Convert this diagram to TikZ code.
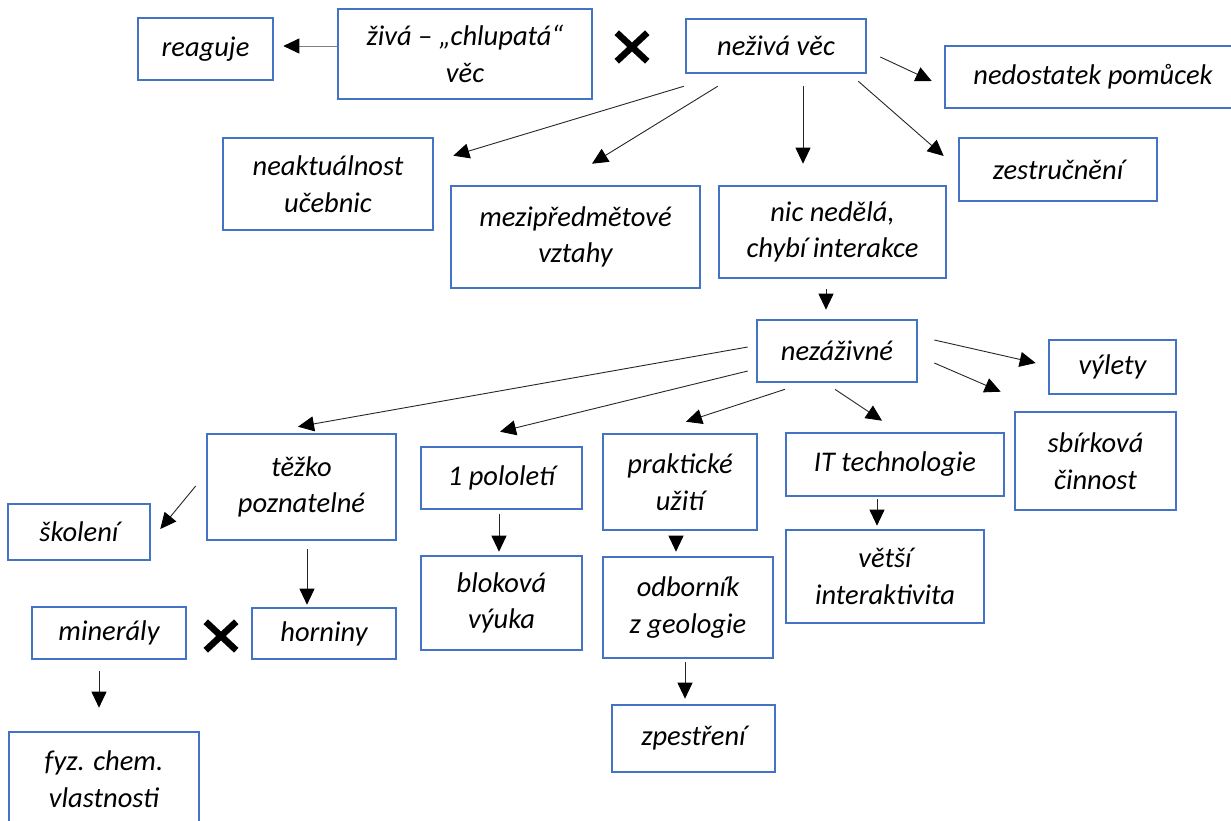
\documentclass[tikz,border=0pt]{standalone}
\usepackage{fontspec}
\setmainfont{Carlito}
\usepackage{tikz}
\usetikzlibrary{shapes.misc}
\usetikzlibrary{arrows.meta}
\definecolor{okraj}{HTML}{4472C4}
\tikzset{
  box/.style={draw=okraj, line width=2.6pt, fill=white, rectangle,
    align=center, inner sep=2pt,
    font=\fontsize{28.5}{36.7}\selectfont\itshape},
  sipka/.style={-{Triangle[length=16pt,width=15pt,color=black]}, line width=0.9pt, black!85},
  krizek/.style={cross out, draw=black, line width=6.5pt,
    minimum width=24pt, minimum height=22pt, inner sep=0pt}
}
\begin{document}
\begin{tikzpicture}[x=1pt,y=-1pt]
\useasboundingbox (0,0) rectangle (1231,821);

\node[box, minimum width=135pt, minimum height=62pt] (reaguje) at (205.5,49)
  {reaguje};
\node[box, minimum width=254pt, minimum height=90pt] (ziva) at (465,54)
  {živá – „chlupatá“\\věc};
\node[krizek] (x1) at (632,47) {};
\node[box, minimum width=180pt, minimum height=54pt] (nez) at (776,46)
  {neživá věc};
\node[box, minimum width=296pt, minimum height=62pt] (nedost) at (1093,77)
  {nedostatek pomůcek};
\node[box, minimum width=210pt, minimum height=92pt] (neakt) at (328,184)
  {neaktuálnost\\učebnic};
\node[box, minimum width=249pt, minimum height=102pt] (mezi) at (575.5,237)
  {mezipředmětové\\vztahy};
\node[box, minimum width=227pt, minimum height=92pt] (nic) at (832.5,232)
  {nic nedělá,\\chybí interakce};
\node[box, minimum width=198pt, minimum height=63pt] (zestr) at (1058,169.5)
  {zestručnění};

\node[box, minimum width=160pt, minimum height=62pt] (nezaz) at (837,351)
  {nezáživné};
\node[box, minimum width=127pt, minimum height=54pt] (vylety) at (1112.5,367)
  {výlety};
\node[box, minimum width=161pt, minimum height=98pt] (sbirk) at (1095.5,461)
  {sbírková\\činnost};
\node[box, minimum width=189pt, minimum height=106pt] (tezko) at (301.5,487)
  {těžko\\poznatelné};
\node[box, minimum width=142pt, minimum height=56pt] (skoleni) at (79,532)
  {školení};
\node[box, minimum width=161pt, minimum height=62pt] (pololeti) at (501.5,478)
  {1 pololetí};
\node[box, minimum width=154pt, minimum height=96pt] (prakt) at (680,482)
  {praktické\\užití};
\node[box, minimum width=218pt, minimum height=63pt] (it) at (895,464.5)
  {IT technologie};

\node[box, minimum width=154pt, minimum height=52pt] (mineraly) at (109,633)
  {minerály};
\node[krizek] (x2) at (221,636) {};
\node[box, minimum width=144pt, minimum height=51pt] (horniny) at (324,633.5)
  {horniny};
\node[box, minimum width=190pt, minimum height=94pt] (fyz) at (104,779)
  {fyz. chem.\\vlastnosti};
\node[box, minimum width=161pt, minimum height=94pt] (blokova) at (501.5,603)
  {bloková\\výuka};
\node[box, minimum width=170pt, minimum height=101pt] (odbor) at (688,607.5)
  {odborník\\z geologie};
\node[box, minimum width=163pt, minimum height=67pt] (zpest) at (693.5,738.5)
  {zpestření};
\node[box, minimum width=198pt, minimum height=93pt] (vetsi) at (885,576.5)
  {větší\\interaktivita};

\draw[sipka, black!50] ([yshift=8pt]ziva.west) -- ([xshift=9pt,yshift=3pt]reaguje.east);
\draw[sipka] ([xshift=-1pt,yshift=-12pt]nez.south west) -- ([xshift=19pt,yshift=-19pt]neakt.north east);
\draw[sipka] ([xshift=33pt,yshift=-12pt]nez.south west) -- ([xshift=16.5pt,yshift=21pt]mezi.north);
\draw[sipka] ([xshift=27pt,yshift=-12pt]nez.south) -- ([xshift=-29.5pt,yshift=21pt]nic.north);
\draw[sipka] ([xshift=-9pt,yshift=-7pt]nez.south east) -- ([xshift=-14pt,yshift=13.5pt]zestr.west);
\draw[sipka] ([xshift=13pt,yshift=-11pt]nez.east) -- ([xshift=-12pt,yshift=-4pt]nedost.west);
\draw[sipka] ([xshift=-6.5pt,yshift=-10pt]nic.south) -- ([xshift=-11pt,yshift=9pt]nezaz.north);

\draw[sipka] ([xshift=-8pt,yshift=4pt]nezaz.west) -- ([xshift=-3.5pt,yshift=6pt]tezko.north);
\draw[sipka] ([xshift=-8pt,yshift=-20pt]nezaz.west) -- ([xshift=-1.5pt,yshift=14pt]pololeti.north);
\draw[sipka] ([xshift=-52pt,yshift=-6pt]nezaz.south) -- ([xshift=6pt,yshift=11pt]prakt.north);
\draw[sipka] ([xshift=-2pt,yshift=-6pt]nezaz.south) -- ([xshift=-13pt,yshift=11pt]it.north);
\draw[sipka] ([xshift=16pt,yshift=11pt]nezaz.east) -- ([xshift=-12pt,yshift=4pt]vylety.west);
\draw[sipka] ([xshift=16pt,yshift=-12pt]nezaz.east) -- ([xshift=-13pt,yshift=19pt]sbirk.north west);

\draw[sipka] ([xshift=-10pt,yshift=1pt]tezko.west) -- ([xshift=9pt,yshift=3pt]skoleni.east);
\draw[sipka] ([xshift=5.5pt,yshift=-8pt]tezko.south) -- ([xshift=-17pt,yshift=2pt]horniny.north);
\draw[sipka] ([xshift=-10pt,yshift=-11pt]mineraly.south) -- ([xshift=-5pt,yshift=23pt]fyz.north);
\draw[sipka] ([xshift=-2.5pt,yshift=-4pt]pololeti.south) -- ([xshift=-2.5pt,yshift=3pt]blokova.north);
\draw[sipka] ([xshift=-4pt,yshift=-5pt]prakt.south) -- ([xshift=-12pt,yshift=4pt]odbor.north);
\draw[sipka] ([xshift=-3pt,yshift=-3pt]odbor.south) -- ([xshift=-8.5pt,yshift=5pt]zpest.north);
\draw[sipka] ([xshift=-18pt,yshift=-2pt]it.south) -- ([xshift=-8pt,yshift=3pt]vetsi.north);
\end{tikzpicture}
\end{document}
